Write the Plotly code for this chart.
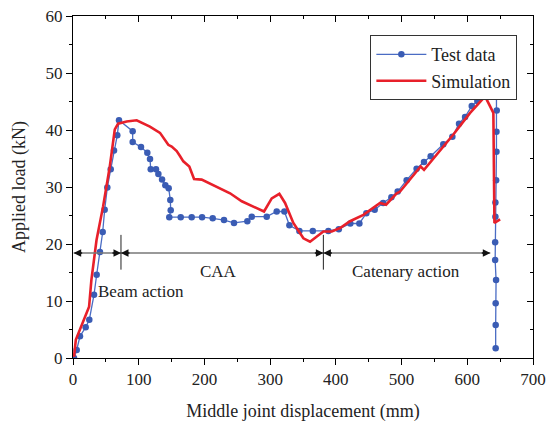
import plotly.graph_objects as go

# ---- data ----
test_x = [1.5, 5.6, 10.6, 19.3, 24.8, 32.0, 36.0, 41.0, 45.2, 48.2, 52.2, 57.4, 62.4, 67.4, 70.0,
          90.8, 90.8, 103.5, 113.1, 117.2, 118.3, 126.3, 129.9, 135.5, 140.5, 145.6, 148.1, 148.7, 146.5,
          163.9, 180.6, 196.4, 212.6, 229.8, 245.0, 265.3, 272.0, 294.8, 310.0, 321.7, 329.3, 344.5,
          364.9, 388.6, 404.5, 422.0, 435.8, 446.4, 459.1, 471.9, 484.5, 494.1, 507.7, 522.9, 534.1,
          544.3, 563.5, 577.3, 587.4, 596.6, 606.8, 615.3, 621.0, 626.6, 632.0, 644.0, 644.4, 644.8,
          644.4, 644.4, 643.9, 642.8, 642.8, 642.4, 642.4, 643.8, 643.2, 643.2, 643.2]
test_y = [0.0, 1.4, 3.8, 5.4, 6.7, 11.1, 14.6, 18.6, 22.1, 26.0, 29.9, 33.1, 36.4, 39.1, 41.7,
          39.8, 37.9, 37.0, 36.0, 34.9, 33.1, 33.1, 32.3, 31.3, 30.3, 29.8, 27.7, 25.9, 24.7,
          24.7, 24.7, 24.7, 24.5, 24.2, 23.7, 24.0, 24.8, 24.8, 25.7, 25.7, 23.3, 22.3,
          22.3, 22.3, 22.6, 23.6, 23.6, 25.4, 26.0, 27.2, 28.2, 29.2, 31.2, 33.2, 34.4,
          35.4, 37.5, 38.8, 41.1, 42.3, 44.2, 45.1, 46.6, 48.1, 50.0, 49.0, 46.3, 43.4,
          39.7, 36.2, 31.2, 27.3, 24.8, 20.3, 17.2, 13.7, 9.6, 5.8, 1.7]

sim_x = [1.5, 4.3, 24.5, 28.0, 35.8, 45.8, 56.0, 63.6, 68.6, 81.6, 96.9, 117.0, 132.4, 145.0, 150.2,
         157.8, 163.0, 167.9, 177.0, 184.2, 195.8, 223.7, 239.0, 256.8, 274.6, 290.7, 302.4, 314.0,
         322.7, 335.3, 350.6, 360.7, 381.0, 393.8, 406.4, 421.6, 441.9, 467.3, 476.4, 492.6, 497.7,
         529.0, 534.2, 553.5, 578.8, 604.3, 627.1, 639.7, 641.3, 650.0]
sim_y = [0.2, 3.2, 9.0, 13.7, 20.7, 26.6, 33.6, 40.1, 41.1, 41.5, 41.7, 40.6, 39.5, 37.4, 37.1,
         36.3, 35.4, 34.5, 33.6, 31.4, 31.3, 29.8, 28.9, 27.5, 26.6, 25.7, 28.0, 28.8,
         27.2, 23.7, 21.0, 20.4, 22.2, 22.2, 22.8, 24.0, 25.1, 27.2, 26.9, 28.9, 29.2,
         33.6, 33.0, 35.7, 39.2, 43.0, 45.9, 43.0, 23.7, 24.3]

phase_bounds = [1, 73, 381, 635]
phase_labels = ["Beam action", "CAA", "Catenary action"]
phase_label_x = [104, 222, 506]
phase_label_y = [11.6, 15.2, 15.2]
arrow_y = 18.4

FONT = "Liberation Serif, Times New Roman, serif"

fig = go.Figure()
fig.add_trace(go.Scatter(
    x=test_x, y=test_y, mode="lines+markers", name="Test data",
    line=dict(color="#4a6cc4", width=1.3),
    marker=dict(color="#3a5cb4", size=6.5)))
fig.add_trace(go.Scatter(
    x=sim_x, y=sim_y, mode="lines", name="Simulation",
    line=dict(color="#e8202a", width=2.6)))
fig.add_trace(go.Scatter(x=[0], y=[0], xaxis="x2", yaxis="y2", mode="markers",
                         marker=dict(opacity=0), showlegend=False, hoverinfo="skip"))

shapes = []
annotations = []
shapes.append(dict(type="line", xref="x", yref="y", x0=phase_bounds[0], x1=phase_bounds[-1],
                   y0=arrow_y, y1=arrow_y, line=dict(color="#777777", width=1.5)))
for b in phase_bounds[1:-1]:
    shapes.append(dict(type="line", xref="x", yref="y", x0=b, x1=b, y0=15.5, y1=21.6,
                       line=dict(color="#222222", width=1)))
for i in range(len(phase_bounds) - 1):
    a, b = phase_bounds[i], phase_bounds[i + 1]
    annotations.append(dict(x=a, y=arrow_y, xref="x", yref="y", ax=10, ay=0, text="",
                            showarrow=True, arrowhead=2, arrowsize=1, arrowwidth=1.5,
                            arrowcolor="#111111"))
    annotations.append(dict(x=b, y=arrow_y, xref="x", yref="y", ax=-10, ay=0, text="",
                            showarrow=True, arrowhead=2, arrowsize=1, arrowwidth=1.5,
                            arrowcolor="#111111"))
for lab, lx, ly in zip(phase_labels, phase_label_x, phase_label_y):
    annotations.append(dict(x=lx, y=ly, xref="x", yref="y", text=lab, showarrow=False,
                            font=dict(family=FONT, size=17, color="#222222")))

axis_common = dict(showgrid=False, zeroline=False, showline=True, linecolor="black",
                   linewidth=1, tickcolor="black", ticklen=6, tickwidth=1, automargin=False)

fig.update_layout(
    width=549, height=429,
    margin=dict(l=73, r=16, t=16, b=71, autoexpand=False),
    paper_bgcolor="white", plot_bgcolor="white",
    font=dict(family=FONT, size=17, color="#222222"),
    showlegend=True,
    legend=dict(x=0.966, y=0.944, xanchor="right", yanchor="top",
                bgcolor="white", bordercolor="#333333", borderwidth=1,
                font=dict(family=FONT, size=18), tracegroupgap=0, itemwidth=50),
    xaxis=dict(range=[0, 700], dtick=100, ticks="outside",
               minor=dict(dtick=50, ticks="outside", ticklen=3, tickcolor="black"),
               title=dict(text="Middle joint displacement (mm)",
                          font=dict(family=FONT, size=18)),
               tickfont=dict(family=FONT, size=17), **axis_common),
    yaxis=dict(range=[0, 60], dtick=10, ticks="outside",
               minor=dict(dtick=5, ticks="outside", ticklen=3, tickcolor="black"),
               title=dict(text="Applied load (kN)",
                          font=dict(family=FONT, size=18)),
               tickfont=dict(family=FONT, size=17), **axis_common),
    xaxis2=dict(range=[0, 700], dtick=100, ticks="inside", overlaying="x", side="top",
                showticklabels=False,
                minor=dict(dtick=50, ticks="inside", ticklen=3, tickcolor="black"),
                **axis_common),
    yaxis2=dict(range=[0, 60], dtick=10, ticks="inside", overlaying="y", side="right",
                showticklabels=False,
                minor=dict(dtick=5, ticks="inside", ticklen=3, tickcolor="black"),
                **axis_common),
    shapes=shapes,
    annotations=annotations,
)

fig.write_html("out.html", config={"displayModeBar": False},
               post_script="document.body.style.margin='0';document.body.style.overflow='hidden';")
